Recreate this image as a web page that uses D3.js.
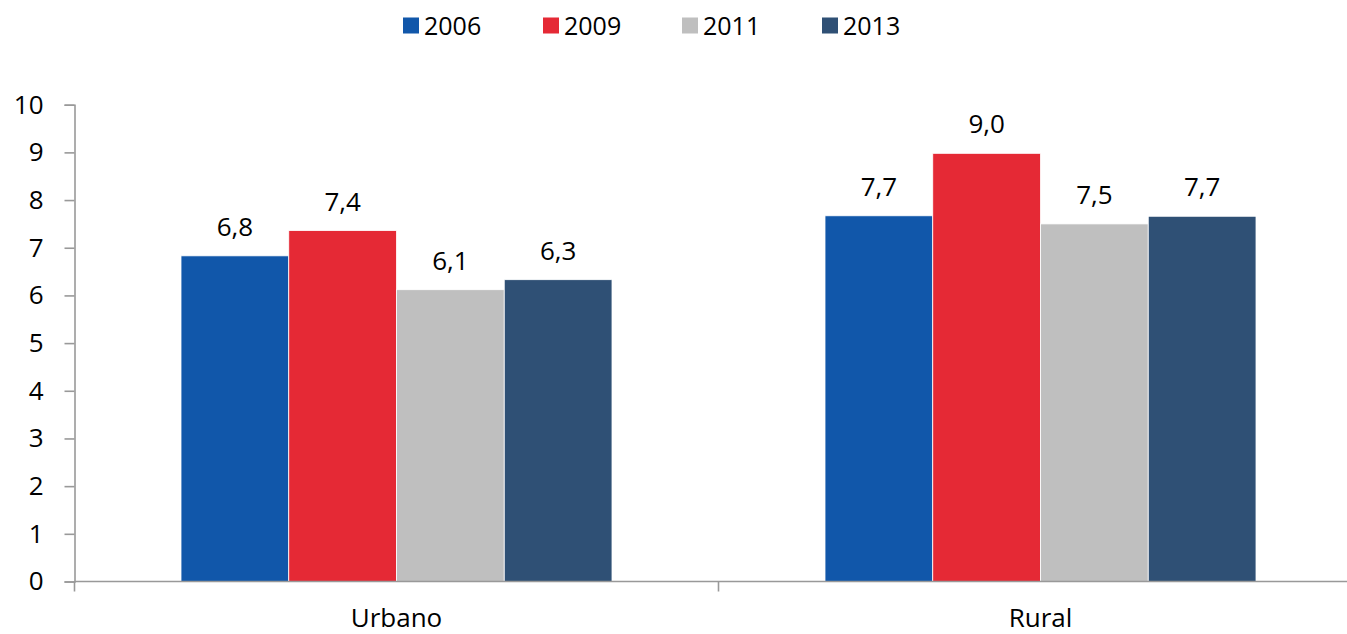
<!DOCTYPE html>
<html>
<head>
<meta charset="utf-8">
<script src="https://cdn.jsdelivr.net/npm/d3@7/dist/d3.min.js"></script>
<style>
  html, body { margin: 0; padding: 0; background: #fff; }
  svg { display: block; }
  text { font-family: "Open Sans", Lato, sans-serif; fill: #000; }
</style>
</head>
<body>
<svg id="chart" width="1347" height="634"></svg>
<script>
const categories = ["Urbano", "Rural"];
const seriesNames = ["2006", "2009", "2011", "2013"];
const values2006 = [6.83, 7.67];
const values2009 = [7.36, 8.98];
const values2011 = [6.12, 7.50];
const values2013 = [6.33, 7.66];
const yTicks = [0, 1, 2, 3, 4, 5, 6, 7, 8, 9, 10];
const colors = ["#1157AA", "#E52935", "#BFBFBF", "#2F5075"];

const seriesValues = [values2006, values2009, values2011, values2013];

const svg = d3.select("#chart");
const plotLeft = 74.5, plotRight = 1362.5, plotTop = 104.7, plotBottom = 581.5;
const FS = "26px";

const x0 = d3.scaleBand().domain(categories).range([plotLeft, plotRight]).paddingInner(0).paddingOuter(0);
const innerPad = (x0.bandwidth() - 431) / 2;
const x1 = d3.scaleBand().domain(seriesNames)
  .range([innerPad, x0.bandwidth() - innerPad]).padding(0);
const y = d3.scaleLinear().domain([0, 10]).range([plotBottom, plotTop]);

const fmt = v => d3.format(".1f")(v).replace(".", ",");

// bars
const groups = svg.append("g").selectAll("g")
  .data(categories)
  .join("g")
  .attr("transform", d => `translate(${x0(d)},0)`);

groups.each(function(cat, ci) {
  const g = d3.select(this);
  seriesNames.forEach((s, si) => {
    const v = seriesValues[si][ci];
    g.append("rect")
      .attr("x", x1(s))
      .attr("y", y(v))
      .attr("width", x1.bandwidth())
      .attr("height", y(0) - y(v))
      .attr("fill", colors[si])
      .attr("stroke", "#ffffff")
      .attr("stroke-width", 0.8);
    g.append("text")
      .attr("x", x1(s) + x1.bandwidth() / 2)
      .attr("y", y(v) - 20)
      .attr("text-anchor", "middle")
      .style("font-size", FS)
      .text(fmt(v));
  });
});

// y axis
const yAxis = d3.axisLeft(y).tickValues(yTicks).tickSize(10).tickPadding(21).tickFormat(d3.format("d"));
const yg = svg.append("g").attr("transform", `translate(${plotLeft},0)`).call(yAxis);
yg.select(".domain").attr("stroke", "#999").attr("stroke-width", 1.6);
yg.selectAll(".tick line").attr("stroke", "#999").attr("stroke-width", 1.6);
yg.selectAll(".tick text").style("font-size", FS).style("font-family", "'Open Sans', sans-serif").attr("fill", "#000");

// x axis
const xAxisG = svg.append("g").attr("transform", `translate(0,${plotBottom})`);
xAxisG.append("line")
  .attr("x1", plotLeft).attr("x2", plotRight)
  .attr("y1", 0).attr("y2", 0)
  .attr("stroke", "#999").attr("stroke-width", 1.6);
const boundaries = [plotLeft].concat(categories.map(c => x0(c) + x0.bandwidth()));
xAxisG.selectAll("line.tk").data(boundaries).join("line")
  .attr("class", "tk")
  .attr("x1", d => d).attr("x2", d => d)
  .attr("y1", 0).attr("y2", 10)
  .attr("stroke", "#999").attr("stroke-width", 1.6);
xAxisG.selectAll("text").data(categories).join("text")
  .attr("x", d => x0(d) + x0.bandwidth() / 2)
  .attr("y", 45)
  .attr("text-anchor", "middle")
  .style("font-size", "26px")
  .text(d => d);

// legend
const legendX = [403, 543, 682, 822];
const lg = svg.append("g");
seriesNames.forEach((s, i) => {
  lg.append("rect")
    .attr("x", legendX[i]).attr("y", 17.5)
    .attr("width", 16).attr("height", 16)
    .attr("fill", colors[i]);
  lg.append("text")
    .attr("x", legendX[i] + 21).attr("y", 35)
    .style("font-size", "25px")
    .text(s);
});
</script>
</body>
</html>
